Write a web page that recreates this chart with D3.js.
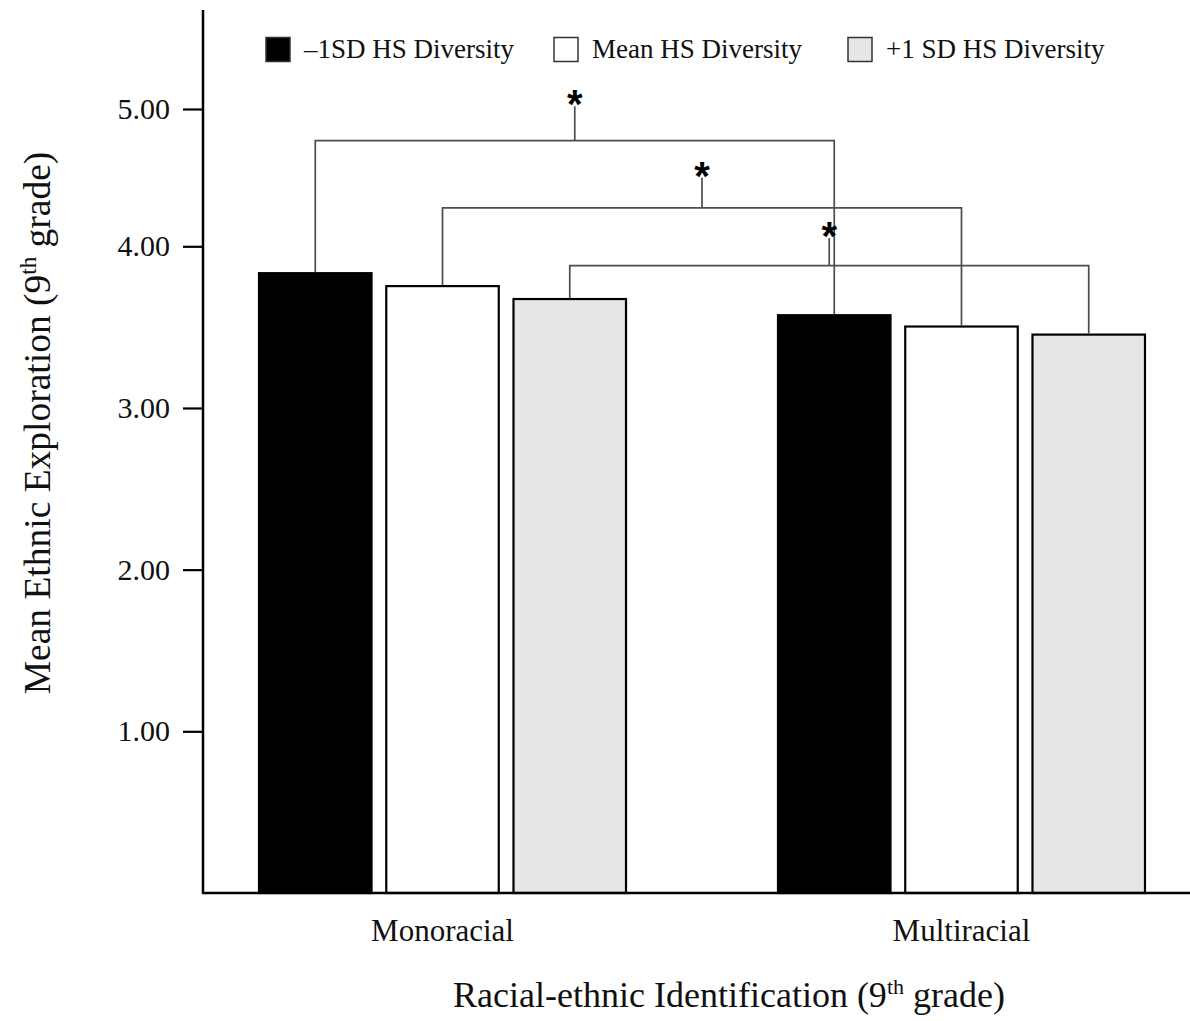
<!DOCTYPE html>
<html>
<head>
<meta charset="utf-8">
<script src="https://cdn.jsdelivr.net/npm/d3@7"></script>
<style>
  html, body { margin: 0; padding: 0; background: #fff; }
  svg { display: block; }
  text { font-family: "Liberation Serif", "Times New Roman", serif; fill: #111; }
</style>
</head>
<body>
<svg id="chart" width="1190" height="1021"></svg>
<script>
// Racial-ethnic identification groups (x axis)
const groups = ["Monoracial", "Multiracial"];
// High-school diversity levels (legend series)
const seriesNames = ["\u20131SD HS Diversity", "Mean HS Diversity", "+1 SD HS Diversity"];
const seriesFills = ["#000000", "#ffffff", "#e6e6e6"];
// Mean ethnic exploration, one array per group, ordered like seriesNames
const monoracialValues = [3.84, 3.76, 3.68];
const multiracialValues = [3.58, 3.51, 3.46];
// Y axis tick values and labels
const yTicks = [1, 2, 3, 4, 5];
const yTickLabels = ["1.00", "2.00", "3.00", "4.00", "5.00"];
// Significance brackets: level of the horizontal rule and top of the star stem
const bracketLevels = [4.77, 4.28, 3.88];
const starLevels = [5.02, 4.50, 4.06];

const values = [monoracialValues, multiracialValues];

const svg = d3.select("#chart");
const left = 203, right = 1201, bottom = 893;

// y: the printed axis places 5.00 closer to 4.00 than the lower ticks
const y = d3.scaleLinear().domain([0, 4, 5]).range([bottom, 246.3, 109]);

const x0 = d3.scaleBand().domain(groups).range([left, right])
  .paddingInner(0.289).paddingOuter(0.106);
const x1 = d3.scaleBand().domain(d3.range(seriesNames.length))
  .range([0, x0.bandwidth()]).paddingInner(0.1).paddingOuter(0);

// Bars
const g = svg.append("g");
groups.forEach((grp, gi) => {
  g.selectAll(null).data(values[gi]).enter().append("rect")
    .attr("x", (d, i) => x0(grp) + x1(i) + 1)
    .attr("y", d => y(d) + 1)
    .attr("width", x1.bandwidth() - 2)
    .attr("height", d => bottom - y(d) - 1)
    .attr("fill", (d, i) => seriesFills[i])
    .attr("stroke", "#000")
    .attr("stroke-width", 2.2);
});

// Significance brackets joining matching bars of the two groups
const br = svg.append("g");
seriesNames.forEach((s, i) => {
  const xa = x0(groups[0]) + x1(i) + x1.bandwidth() / 2;
  const xb = x0(groups[1]) + x1(i) + x1.bandwidth() / 2;
  const ya = y(monoracialValues[i]);
  const yb = y(multiracialValues[i]);
  const yl = y(bracketLevels[i]);
  br.append("path")
    .attr("d", `M${xa},${ya} V${yl} H${xb} V${yb}`)
    .attr("fill", "none").attr("stroke", "#4d4d4d").attr("stroke-width", 1.7);
  const xm = (xa + xb) / 2;
  const ys = y(starLevels[i]);
  br.append("line")
    .attr("x1", xm).attr("x2", xm).attr("y1", yl).attr("y2", ys)
    .attr("stroke", "#4d4d4d").attr("stroke-width", 1.7);
  br.append("text")
    .attr("x", xm).attr("y", ys + 12)
    .attr("text-anchor", "middle")
    .style("font-family", "'Liberation Sans', Arial, sans-serif")
    .style("font-weight", "bold")
    .style("font-size", "40px")
    .style("fill", "#000")
    .text("*");
});

// Y axis
const yAxis = d3.axisLeft(y).tickValues(yTicks)
  .tickFormat((d, i) => yTickLabels[i]).tickSize(20).tickPadding(13);
const ya = svg.append("g").attr("transform", `translate(${left},0)`).call(yAxis);
ya.select(".domain").remove();
ya.selectAll(".tick line").attr("stroke", "#000").attr("stroke-width", 2.2);
ya.selectAll(".tick text")
  .style("font-family", "'Liberation Serif', 'Times New Roman', serif")
  .style("font-size", "30px").style("fill", "#111");
svg.append("line").attr("x1", left).attr("x2", left).attr("y1", 10).attr("y2", bottom + 1)
  .attr("stroke", "#000").attr("stroke-width", 2.5);

// X axis baseline and group labels
svg.append("line").attr("x1", left - 1).attr("x2", 1190).attr("y1", bottom).attr("y2", bottom)
  .attr("stroke", "#000").attr("stroke-width", 2.5);
svg.selectAll(".grp").data(groups).enter().append("text")
  .attr("x", d => x0(d) + x0.bandwidth() / 2)
  .attr("y", 941)
  .attr("text-anchor", "middle")
  .style("font-size", "31px")
  .text(d => d);

// Axis titles
const xt = svg.append("text").attr("x", 729).attr("y", 1007)
  .attr("text-anchor", "middle").style("font-size", "36px");
xt.append("tspan").text("Racial-ethnic Identification (9");
xt.append("tspan").attr("dy", -13).style("font-size", "22px").text("th");
xt.append("tspan").attr("dy", 13).text(" grade)");

const yt = svg.append("text")
  .attr("transform", "translate(50,423) rotate(-90)")
  .attr("text-anchor", "middle").style("font-size", "37.5px");
yt.append("tspan").text("Mean Ethnic Exploration (9");
yt.append("tspan").attr("dy", -14).style("font-size", "23px").text("th");
yt.append("tspan").attr("dy", 14).text(" grade)");

// Legend
const legendX = [265, 553, 847];
const lg = svg.append("g");
seriesNames.forEach((s, i) => {
  lg.append("rect").attr("x", legendX[i] + 1).attr("y", 37.5)
    .attr("width", 24).attr("height", 24)
    .attr("fill", seriesFills[i]).attr("stroke", "#333").attr("stroke-width", 1.5);
  lg.append("text").attr("x", legendX[i] + 39).attr("y", 58)
    .style("font-size", "27px").text(s);
});
</script>
</body>
</html>
